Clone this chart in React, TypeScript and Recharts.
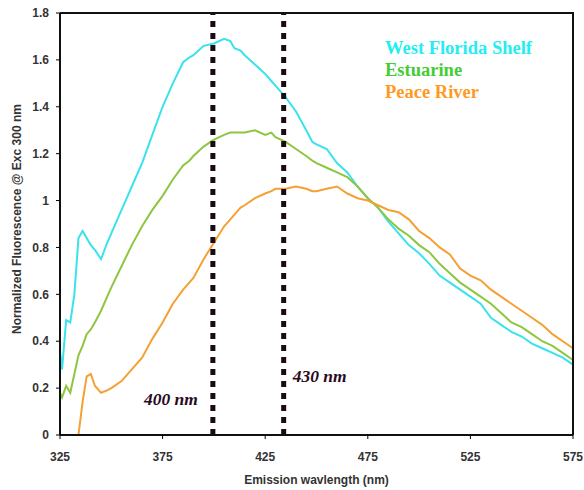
import React from "react";
import {
  LineChart,
  Line,
  XAxis,
  YAxis,
  ReferenceLine,
} from "recharts";

const wavelengths = [
  325, 326, 328, 330, 332, 333, 334, 336, 338, 340, 342, 345, 348, 350, 355, 360,
  365, 370, 375, 380, 385, 388, 390, 395, 400, 405, 408, 410, 413, 415, 420, 425,
  428, 430, 435, 440, 445, 448, 450, 455, 460, 465, 470, 475, 480, 485, 490, 495,
  500, 505, 510, 515, 520, 525, 530, 535, 540, 545, 550, 555, 560, 565, 570, 575,
];

const westFloridaShelf = [
  0.36, 0.28, 0.49, 0.48, 0.6, 0.72, 0.84, 0.87, 0.84, 0.81, 0.79, 0.75, 0.82, 0.86, 0.96, 1.06,
  1.16, 1.28, 1.4, 1.5, 1.59, 1.61, 1.62, 1.66, 1.67, 1.69, 1.68, 1.65, 1.64, 1.62, 1.58, 1.54,
  1.51, 1.49, 1.44, 1.38, 1.3, 1.25, 1.24, 1.22, 1.16, 1.12, 1.06, 1.01, 0.97, 0.91, 0.86, 0.81,
  0.775, 0.73, 0.68, 0.65, 0.62, 0.59, 0.56, 0.5, 0.47, 0.44, 0.42, 0.39, 0.37, 0.35, 0.33, 0.3,
];

const estuarine = [
  0.18, 0.16, 0.21, 0.18, 0.26, 0.3, 0.34, 0.38, 0.43, 0.45, 0.48, 0.53, 0.59, 0.63, 0.72, 0.81,
  0.89, 0.96, 1.02, 1.09, 1.15, 1.17, 1.19, 1.23, 1.26, 1.28, 1.29, 1.29, 1.29, 1.29, 1.3, 1.28,
  1.29, 1.27, 1.25, 1.22, 1.19, 1.17, 1.16, 1.14, 1.12, 1.1, 1.06, 1.01, 0.97, 0.92, 0.88, 0.85,
  0.81, 0.78, 0.73, 0.69, 0.65, 0.62, 0.59, 0.56, 0.52, 0.48, 0.46, 0.43, 0.4, 0.38, 0.35, 0.32,
];

const peaceRiver = [
  null, null, null, null, null, null, 0.0, 0.14, 0.25, 0.26, 0.21, 0.18, 0.19, 0.2, 0.23, 0.28,
  0.33, 0.41, 0.48, 0.56, 0.62, 0.65, 0.67, 0.75, 0.82, 0.89, 0.92, 0.94, 0.97, 0.98, 1.01, 1.03,
  1.04, 1.05, 1.05, 1.06, 1.05, 1.04, 1.04, 1.05, 1.06, 1.03, 1.01, 1.0, 0.98, 0.96, 0.95, 0.92,
  0.87, 0.84, 0.8, 0.77, 0.71, 0.68, 0.66, 0.62, 0.59, 0.56, 0.53, 0.5, 0.47, 0.43, 0.4, 0.37,
];

const xTicks = [325, 375, 425, 475, 525, 575];
const yTicks = [0, 0.2, 0.4, 0.6, 0.8, 1, 1.2, 1.4, 1.6, 1.8];

const series = [
  { key: "wfs", name: "West Florida Shelf", line: "#3ae2ec", text: "#22eef2" },
  { key: "est", name: "Estuarine", line: "#8dc63f", text: "#44cc33" },
  { key: "pr", name: "Peace River", line: "#f5a033", text: "#ff9922" },
];

const data = wavelengths.map((nm, i) => ({
  nm,
  wfs: westFloridaShelf[i],
  est: estuarine[i],
  pr: peaceRiver[i],
}));

const tickStyle = {
  fontSize: 12,
  fontFamily: "Liberation Sans, Arial, sans-serif",
  fontWeight: "bold",
  fill: "#333",
};

const frameLine = { stroke: "#111", strokeWidth: 2 };

// chart margins / axis sizes, shared with the frame overlay
const M = { top: 13, right: 11, left: 0, bottom: 25 };
const W = 584;
const H = 490;
const Y_AXIS_W = 60;
const X_AXIS_H = 30;

function NmLabel(props: any) {
  const { viewBox, text, side } = props;
  const bottom = viewBox.y + viewBox.height;
  const left = side === "left";
  return (
    <text
      x={left ? viewBox.x - 15 : viewBox.x + 9}
      y={left ? bottom - 30 : bottom - 53}
      textAnchor={left ? "end" : "start"}
      fontFamily="Liberation Serif, Times New Roman, serif"
      fontStyle="italic"
      fontWeight="bold"
      fontSize={17.5}
      fill="#2a0a1e"
    >
      {text}
    </text>
  );
}

function YTitle(props: any) {
  const { viewBox } = props;
  const x = viewBox.x + 21;
  const y = 219;
  return (
    <text
      x={x}
      y={y}
      transform={`rotate(-90 ${x} ${y})`}
      textAnchor="middle"
      {...tickStyle}
    >
      Normalized Fluorescence @ Exc 300 nm
    </text>
  );
}

function XTitle(props: any) {
  const { viewBox } = props;
  return (
    <text x={viewBox.x + viewBox.width / 2} y={484} textAnchor="middle" {...tickStyle}>
      Emission wavlength (nm)
    </text>
  );
}

// legend box sits inside the plot, top right, as in the original figure
function SeriesKey() {
  return (
    <div
      style={{
        position: "absolute",
        left: 385,
        top: 37,
        fontFamily: "Liberation Serif, Times New Roman, serif",
        fontWeight: "bold",
        fontSize: 18.5,
        lineHeight: "22px",
        whiteSpace: "nowrap",
      }}
    >
      {series.map((s) => (
        <div key={s.key} style={{ color: s.text }}>
          {s.name}
        </div>
      ))}
    </div>
  );
}

export default function App() {
  const plotLeft = M.left + Y_AXIS_W;
  const plotW = W - plotLeft - M.right;
  const plotH = H - M.top - M.bottom - X_AXIS_H;
  return (
    <div style={{ position: "absolute", left: 0, top: 0, width: W, height: H, background: "#fff" }}>
      <LineChart width={W} height={H} data={data} margin={M}>
        <XAxis
          dataKey="nm"
          type="number"
          domain={[325, 575]}
          ticks={xTicks}
          interval={0}
          height={X_AXIS_H}
          tickSize={4}
          tickMargin={13}
          tick={tickStyle}
          axisLine={frameLine}
          tickLine={{ stroke: "#000" }}
          label={<XTitle />}
        />
        <YAxis
          type="number"
          domain={[0, 1.8]}
          ticks={yTicks}
          interval={0}
          width={Y_AXIS_W}
          tickSize={4}
          tickMargin={7}
          tick={tickStyle}
          tickFormatter={(v: number) => String(Number(v.toFixed(1)))}
          axisLine={frameLine}
          tickLine={{ stroke: "#000" }}
          label={<YTitle />}
        />
        {series.map((s) => (
          <Line
            key={s.key}
            dataKey={s.key}
            name={s.name}
            stroke={s.line}
            strokeWidth={2}
            dot={false}
            type="linear"
            isAnimationActive={false}
          />
        ))}
        <ReferenceLine
          x={399.5}
          stroke="#1a0a14"
          strokeWidth={5}
          strokeDasharray="6 6"
          label={<NmLabel text="400 nm" side="left" />}
        />
        <ReferenceLine
          x={434}
          stroke="#1a0a14"
          strokeWidth={5}
          strokeDasharray="6 6"
          label={<NmLabel text="430 nm" side="right" />}
        />
      </LineChart>
      {/* top and right edges of the plot box */}
      <div
        style={{
          position: "absolute",
          left: plotLeft,
          top: M.top - 1,
          width: plotW + 1,
          height: plotH + 1,
          borderTop: "2px solid #111",
          borderRight: "2px solid #111",
          boxSizing: "border-box",
          pointerEvents: "none",
        }}
      />
      <SeriesKey />
    </div>
  );
}
